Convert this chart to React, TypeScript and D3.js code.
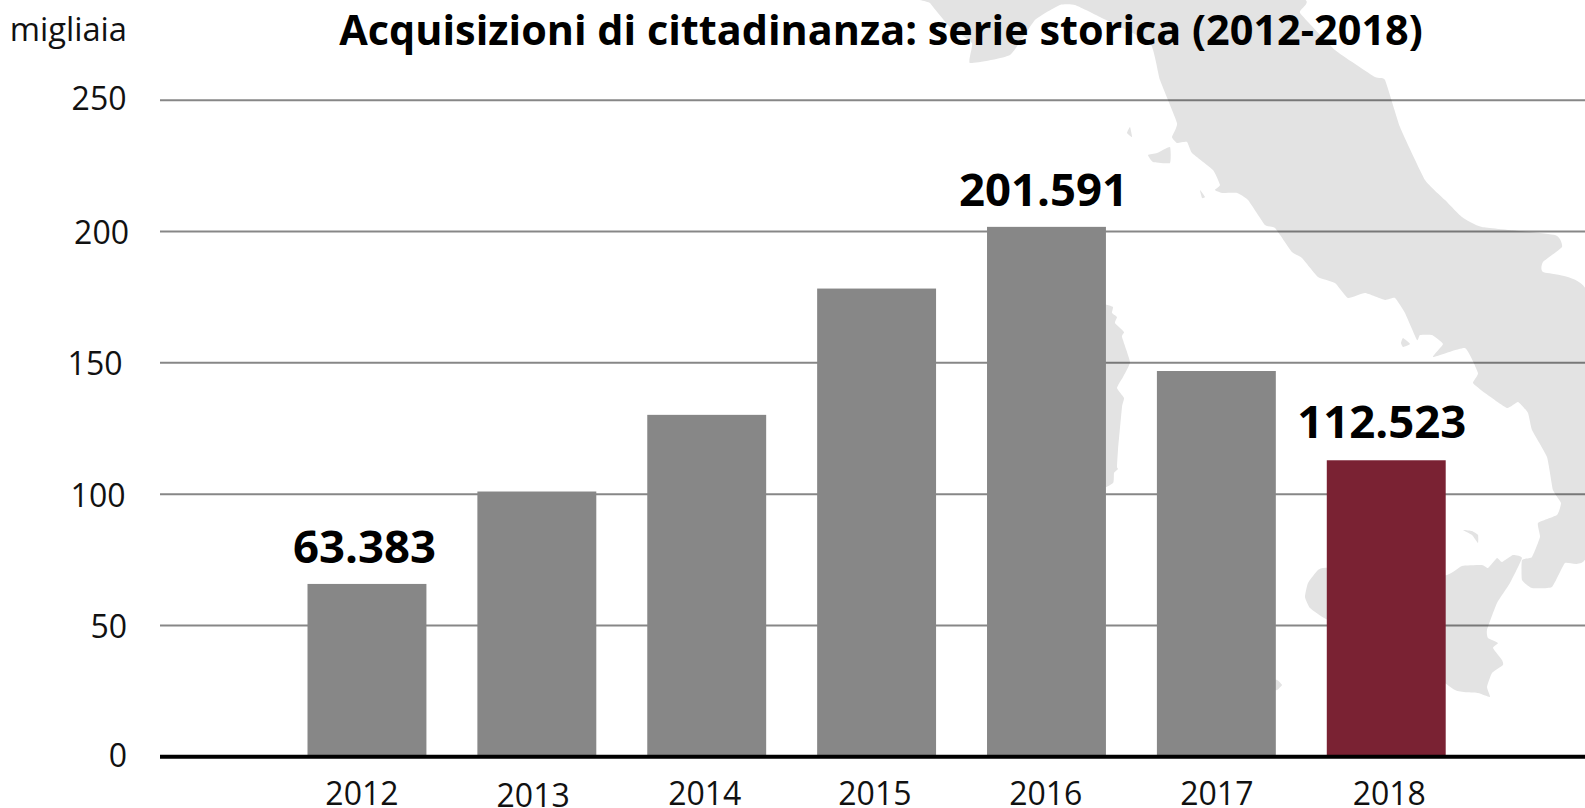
import React, { useEffect, useRef } from 'react'
import * as d3 from 'd3'

const years = ['2012', '2013', '2014', '2015', '2016', '2017', '2018']
const values = [65.8, 101, 130.2, 178.3, 201.8, 146.9, 112.9]
const valueLabels = ['63.383', '', '', '', '201.591', '', '112.523']
const yTicks = [0, 50, 100, 150, 200, 250]

// the labels in the source sit a little unevenly, keep that
const yearNudge = [[-5, 0], [-3.7, 2], [-2, 0], [-1.7, 0], [-0.7, 0], [0.5, 0], [3, 0]]
const yTickNudge = [[0, -0.2], [0, 1.6], [-1.5, 1.8], [-4.5, 1.5], [2, 1.7], [-0.5, -1]]
const labelNudge = [[-2.5, -20.5], [0, 0], [0, 0], [0, 0], [-3, -20.5], [0, 0], [-4.5, -22.5]]

const GREY = '#878787'
const RED = '#7a2233'
const MAP = '#e3e3e3'
const FONT = '"Open Sans", sans-serif'

// background map of Italy, traced in page pixels
type Pt = [number, number]
const mainland: Pt[] = [
  [928, -2], [930, 3], [950, 27], [972, 43], [970, 63], [1010, 55], [1035, 20], [1060, 5], [1075, 5], [1100, 17],
  [1150, 43], [1160, 80], [1177, 123], [1172, 137], [1177, 143], [1187, 142], [1192, 153], [1213, 170], [1220, 185],
  [1215, 190], [1222, 193], [1237, 193], [1248, 200], [1265, 225], [1275, 228], [1292, 252], [1302, 258], [1318, 277],
  [1335, 283], [1348, 298], [1365, 293], [1385, 300], [1395, 298], [1405, 313], [1417, 340], [1420, 335], [1432, 335],
  [1443, 344], [1433, 357], [1465, 348], [1478, 373], [1473, 383], [1485, 393], [1507, 408], [1518, 402], [1528, 413],
  [1532, 430], [1547, 457], [1553, 490], [1561, 503], [1557, 515], [1538, 523], [1540, 537], [1532, 557], [1522, 560],
  [1522, 580], [1532, 588], [1552, 587], [1565, 563], [1587, 553], [1587, 293], [1543, 272], [1543, 262], [1562, 247],
  [1555, 235], [1482, 227], [1462, 217], [1445, 200], [1425, 180], [1400, 127], [1385, 80], [1375, 77], [1335, 50],
  [1300, 13], [1295, -2],
]
const sicily: Pt[] = [
  [1305, 597], [1308, 583], [1318, 570], [1328, 568], [1400, 580], [1447, 575], [1462, 566], [1482, 565], [1488, 568],
  [1497, 558], [1502, 562], [1513, 555], [1522, 558], [1510, 583], [1497, 603], [1487, 630], [1488, 638], [1498, 643],
  [1493, 648], [1502, 660], [1503, 665], [1492, 673], [1487, 687], [1490, 697], [1478, 693], [1455, 690], [1400, 650],
  [1328, 620], [1310, 608],
]
const sardinia: Pt[] = [
  [1095, 305], [1107, 305], [1113, 307], [1112, 313], [1117, 317], [1115, 323], [1124, 332], [1122, 337], [1130, 362],
  [1123, 377], [1117, 388], [1124, 398], [1122, 407], [1118, 450], [1117, 467], [1118, 469], [1114, 473], [1113, 483],
  [1095, 484],
]
const islands: Pt[][] = [
  [[1148, 155], [1157, 153], [1170, 147], [1170, 163], [1153, 162]],
  [[1130, 127], [1127, 133], [1132, 137]],
  [[1200, 190], [1205, 197], [1202, 198]],
  [[1403, 338], [1410, 344], [1403, 347], [1401, 343]],
  [[1463, 530], [1472, 531], [1478, 535], [1478, 543], [1472, 535]],
  [[1270, 680], [1277, 680], [1282, 685], [1277, 690], [1270, 690]],
]

export default function App() {
  const ref = useRef<SVGSVGElement>(null)

  useEffect(() => {
    const svg = d3.select(ref.current)
    svg.selectAll('*').remove()

    const y = d3.scaleLinear().domain([0, 250]).range([756.7, 100.3])
    const x = d3.scaleBand<string>().domain(years).range([307.5, 1445.7]).paddingInner(0.3).paddingOuter(0)

    const outline = d3.line<Pt>().curve(d3.curveCardinalClosed.tension(0.6))
    svg.append('g').selectAll('path')
      .data([mainland, sicily, sardinia, ...islands])
      .join('path')
      .attr('d', (d) => outline(d))
      .attr('fill', MAP)

    // grid
    svg.append('g').selectAll('line')
      .data(yTicks.filter((t) => t > 0))
      .join('line')
      .attr('x1', 160).attr('x2', 1585)
      .attr('y1', (d) => y(d)).attr('y2', (d) => y(d))
      .attr('stroke', '#000').attr('stroke-opacity', 0.47).attr('stroke-width', 2)

    // y axis labels
    const yAxis = svg.append('g')
      .attr('transform', 'translate(127,0)')
      .call(d3.axisLeft(y).tickValues(yTicks).tickSize(0).tickPadding(0).tickFormat(d3.format('d')))
    yAxis.select('.domain').remove()
    yAxis.selectAll('text')
      .attr('font-family', FONT).attr('font-size', 32).attr('fill', '#111').attr('dy', '0.32em')
      .attr('transform', (d, i) => `translate(${yTickNudge[i][0]},${yTickNudge[i][1]})`)

    // bars
    svg.append('g').selectAll('rect')
      .data(years)
      .join('rect')
      .attr('x', (d) => x(d)!)
      .attr('width', x.bandwidth())
      .attr('y', (d, i) => y(values[i]))
      .attr('height', (d, i) => y(0) - y(values[i]))
      .attr('fill', (d, i) => (i === years.length - 1 ? RED : GREY))

    // baseline and years
    const xAxis = svg.append('g')
      .attr('transform', `translate(0,${y(0)})`)
      .call(d3.axisBottom(x).tickSize(0).tickPadding(25.5))
    xAxis.select('.domain').remove()
    xAxis.selectAll('text')
      .attr('font-family', FONT).attr('font-size', 32).attr('fill', '#111')
      .attr('transform', (d, i) => `translate(${yearNudge[i][0]},${yearNudge[i][1]})`)
    svg.append('line')
      .attr('x1', 160).attr('x2', 1585)
      .attr('y1', y(0)).attr('y2', y(0))
      .attr('stroke', '#000').attr('stroke-width', 4)

    // value labels
    svg.append('g').selectAll('text')
      .data(years.filter((d, i) => valueLabels[i]))
      .join('text')
      .attr('x', (d) => x(d)! + x.bandwidth() / 2 + labelNudge[years.indexOf(d)][0])
      .attr('y', (d) => y(values[years.indexOf(d)]) + labelNudge[years.indexOf(d)][1])
      .attr('text-anchor', 'middle')
      .attr('font-family', FONT).attr('font-weight', 700).attr('font-size', 45.5).attr('fill', '#000')
      .text((d) => valueLabels[years.indexOf(d)])

    svg.append('text')
      .attr('x', 881).attr('y', 45)
      .attr('text-anchor', 'middle')
      .attr('font-family', FONT).attr('font-weight', 700).attr('font-size', 41.4).attr('fill', '#000')
      .text('Acquisizioni di cittadinanza: serie storica (2012-2018)')

    svg.append('text')
      .attr('x', 127).attr('y', 41)
      .attr('text-anchor', 'end')
      .attr('font-family', FONT).attr('font-size', 32.7).attr('fill', '#111')
      .text('migliaia')
  }, [])

  return <svg ref={ref} width={1585} height={808} style={{ position: 'absolute', left: 0, top: 0, display: 'block' }} />
}
